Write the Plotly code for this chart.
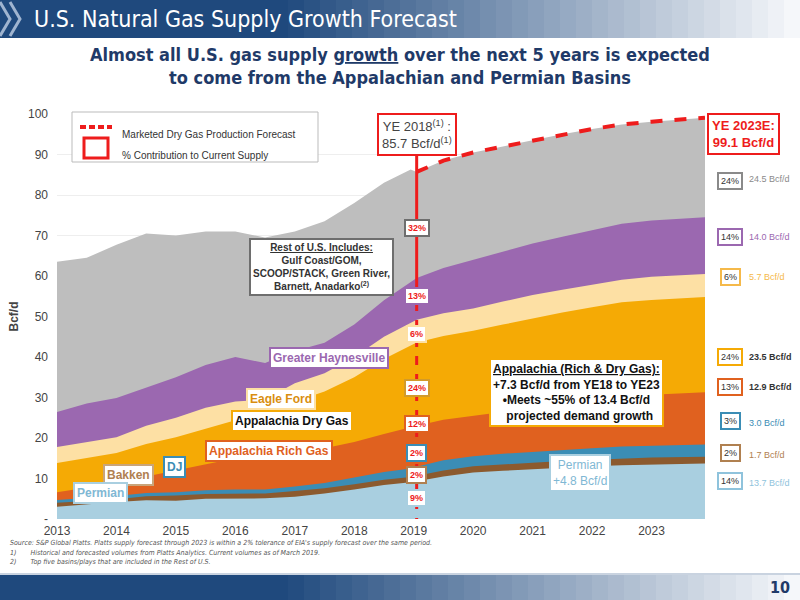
import plotly.graph_objects as go

# ---- data (Bcf/d, cumulative stack tops) ----
YEARS = [2013.0, 2013.5, 2014.0, 2014.5, 2015.0, 2015.5, 2016.0, 2016.5, 2017.0, 2017.5,
         2018.0, 2018.5, 2018.95, 2019.05, 2019.5, 2020.0, 2020.5, 2021.0, 2021.5, 2022.0,
         2022.5, 2023.0, 2023.9]
CUM_PERMIAN = [3.0, 3.6, 4.2, 4.6, 4.5, 5.0, 5.0, 5.1, 5.5, 6.3, 7.3, 8.4, 9.1, 9.3, 10.5, 11.5, 11.9, 12.3, 12.7, 13.0, 13.3, 13.5, 13.7]
CUM_BAKKEN = [4.0, 4.5, 4.9, 5.6, 5.8, 6.2, 6.3, 6.3, 6.9, 7.6, 8.6, 9.7, 10.4, 10.7, 12.0, 13.0, 13.5, 13.9, 14.3, 14.6, 15.0, 15.2, 15.4]
CUM_DJ = [4.7, 5.2, 5.7, 6.4, 6.6, 7.1, 7.3, 7.3, 8.0, 8.9, 10.2, 11.6, 12.5, 12.9, 14.5, 15.5, 16.1, 16.6, 17.1, 17.5, 17.9, 18.1, 18.4]
CUM_RICH = [6.6, 7.8, 8.9, 10.5, 12.0, 13.5, 15.0, 15.2, 16.5, 17.5, 19.0, 21.0, 22.7, 23.0, 24.5, 25.5, 26.5, 27.5, 28.4, 29.3, 30.1, 30.7, 31.3]
CUM_DRY = [13.8, 15.0, 16.3, 18.5, 20.2, 22.3, 24.4, 25.5, 29.0, 31.5, 35.0, 39.5, 43.0, 43.6, 45.2, 46.5, 48.0, 49.5, 51.0, 52.3, 53.5, 54.1, 54.8]
CUM_EF = [17.8, 19.0, 20.2, 23.0, 25.0, 27.5, 29.0, 29.5, 33.5, 36.0, 40.0, 45.0, 48.6, 49.2, 50.8, 52.0, 53.7, 55.3, 56.6, 57.9, 59.1, 59.8, 60.5]
CUM_HAY = [26.4, 28.5, 29.9, 32.5, 35.0, 38.0, 40.0, 38.5, 41.5, 43.5, 48.0, 54.0, 58.5, 59.5, 62.0, 64.0, 66.0, 68.0, 69.7, 71.3, 72.9, 73.7, 74.5]
CUM_TOTAL = [63.5, 64.5, 67.7, 70.5, 70.0, 71.0, 71.0, 69.5, 71.0, 73.5, 78.0, 83.0, 86.3, 85.7, 88.5, 90.5, 92.0, 93.5, 95.0, 96.3, 97.4, 98.1, 99.1]

FCST_YEARS = [2019.05, 2019.5, 2020.0, 2020.5, 2021.0, 2021.5, 2022.0, 2022.5, 2023.0, 2023.9]
FCST_VALUES = [85.7, 88.5, 90.5, 92.0, 93.5, 95.0, 96.3, 97.4, 98.1, 99.1]

LAYERS = [
    ("Rest of U.S.", CUM_TOTAL, "#bebebe"),
    ("Greater Haynesville", CUM_HAY, "#9b68b0"),
    ("Eagle Ford", CUM_EF, "#fde0a4"),
    ("Appalachia Dry Gas", CUM_DRY, "#f5aa05"),
    ("Appalachia Rich Gas", CUM_RICH, "#e0611f"),
    ("DJ", CUM_DJ, "#3b8db5"),
    ("Bakken", CUM_BAKKEN, "#8c5a2e"),
    ("Permian", CUM_PERMIAN, "#a9cfe0"),
]

X_TICKS = list(range(2013, 2024))
Y_TICKS = list(range(0, 101, 10))
Y_LABELS = ["-"] + [str(v) for v in Y_TICKS[1:]]

RIGHT_PCT = ["24%", "14%", "6%", "24%", "13%", "3%", "2%", "14%"]
RIGHT_VAL = ["24.5 Bcf/d", "14.0 Bcf/d", "5.7 Bcf/d", "23.5 Bcf/d", "12.9 Bcf/d", "3.0 Bcf/d", "1.7 Bcf/d", "13.7 Bcf/d"]
RIGHT_COL = ["#8a8a8a", "#9b68b0", "#f5b94a", "#f5aa05", "#e0611f", "#3b8db5", "#b08050", "#8fc3dc"]
RIGHT_TXT = ["#8a8a8a", "#9b68b0", "#f5b94a", "#333333", "#333333", "#3b8db5", "#b08050", "#8fc3dc"]
RIGHT_Y = [172, 237, 277, 357, 387, 430, 462, 490]

MID_PCT = ["32%", "13%", "6%", "24%", "12%", "2%", "2%", "9%"]
MID_Y = [71.9, 55.0, 45.7, 32.3, 23.5, 16.3, 10.9, 5.2]
MID_COL = ["#6e6e6e", "#9b68b0", "#fde0a4", "#d29a2a", "#e0611f", "#3b8db5", "#b08050", "#a9cfe0"]

FONT = "Liberation Sans"
NARROW = "DejaVu Sans Condensed, Roboto Condensed, Roboto"


def px(x):
    return x / 800


def py(y):
    return 1 - y / 600


fig = go.Figure()

for name, cum, color in LAYERS:
    fig.add_trace(go.Scatter(
        x=YEARS, y=cum, mode="lines", line=dict(width=0, color=color),
        fill="tozeroy", fillcolor=color, name=name, showlegend=False, hoverinfo="skip"))

fig.add_trace(go.Scatter(x=FCST_YEARS, y=FCST_VALUES, mode="lines",
                         line=dict(color="#ee1c1c", width=4, dash="dash"),
                         showlegend=False, hoverinfo="skip"))

shapes = []
annotations = []

# header / footer gradient bands
n = 50
for i in range(n):
    t = i / (n - 1)
    f = max(0.0, (t - 0.35) / 0.65)
    r = int(31 + (245 - 31) * f)
    g = int(73 + (247 - 73) * f)
    b = int(125 + (250 - 125) * f)
    for y0, y1 in ((py(38), 1), (0, py(574))):
        shapes.append(dict(type="rect", xref="paper", yref="paper", x0=t * 0.98, x1=t * 0.98 + 0.021,
                           y0=y0, y1=y1, fillcolor=f"rgb({r},{g},{b})", line=dict(width=0), layer="below"))
shapes.append(dict(type="line", xref="paper", yref="paper", x0=0, x1=1, y0=py(574), y1=py(574),
                   line=dict(color="#c9d3e0", width=2)))
for dx in (0, 10):
    shapes.append(dict(type="path", xref="paper", yref="paper",
                       path=f"M {px(dx)},{py(2)} L {px(dx + 10)},{py(19)} L {px(dx)},{py(36)}",
                       line=dict(color="#9fb4d0", width=3)))

annotations.append(dict(text="U.S. Natural Gas Supply Growth Forecast", xref="paper", yref="paper",
                        x=px(32), y=py(19), xanchor="left", yanchor="middle", showarrow=False,
                        font=dict(family=NARROW, size=23, color="white")))
annotations.append(dict(text="<b>Almost all U.S. gas supply <u>growth</u> over the next 5 years is expected<br>to come from the Appalachian and Permian Basins</b>",
                        xref="paper", yref="paper", x=px(400), y=py(66), xanchor="center", yanchor="middle",
                        showarrow=False, font=dict(family=NARROW, size=18, color="#1f3a68")))
annotations.append(dict(text="<b>10</b>", xref="paper", yref="paper", x=px(792), y=py(587), xanchor="right",
                        yanchor="middle", showarrow=False, font=dict(family=NARROW, size=16, color="#1f3a68")))

# legend box
shapes.append(dict(type="rect", xref="paper", yref="paper", x0=px(72), x1=px(318), y0=py(162), y1=py(112),
                   fillcolor="white", line=dict(color="#bbbbbb", width=1)))
shapes.append(dict(type="line", xref="paper", yref="paper", x0=px(80), x1=px(112), y0=py(127), y1=py(127),
                   line=dict(color="#ee1c1c", width=4, dash="6px,3px")))
shapes.append(dict(type="rect", xref="paper", yref="paper", x0=px(84), x1=px(108), y0=py(158), y1=py(138),
                   line=dict(color="#ee1c1c", width=3)))
annotations.append(dict(text="Marketed Dry Gas Production Forecast", xref="paper", yref="paper", x=px(120), y=py(127),
                        xanchor="left", showarrow=False, font=dict(family=FONT, size=10, color="#333")))
annotations.append(dict(text="% Contribution to Current Supply", xref="paper", yref="paper", x=px(120), y=py(148),
                        xanchor="left", showarrow=False, font=dict(family=FONT, size=10, color="#333")))

# YE 2018 marker
shapes.append(dict(type="line", xref="x", yref="y", x0=2019.05, x1=2019.05, y0=96, y1=58,
                   line=dict(color="#ee1c1c", width=3)))
shapes.append(dict(type="line", xref="x", yref="y", x0=2019.05, x1=2019.05, y0=58, y1=0,
                   line=dict(color="#ee1c1c", width=3, dash="dash")))
annotations.append(dict(text="YE 2018<sup>(1)</sup> :<br>85.7 Bcf/d<sup>(1)</sup>", xref="x", yref="paper",
                        x=2019.05, y=py(113), xanchor="center", showarrow=False, bgcolor="white", bordercolor="#ee1c1c",
                        borderwidth=2, borderpad=3, font=dict(family=FONT, size=13, color="#444")))
annotations.append(dict(text="<b>YE 2023E:<br>99.1 Bcf/d</b>", xref="paper", yref="paper", x=px(743), y=py(113),
                        xanchor="center", showarrow=False, bgcolor="white", bordercolor="#ee1c1c", borderwidth=2,
                        borderpad=3, font=dict(family=FONT, size=13, color="#ee1c1c")))
for txt, yv, col in zip(MID_PCT, MID_Y, MID_COL):
    annotations.append(dict(text=f"<b>{txt}</b>", xref="x", yref="y", x=2019.05, y=yv, xanchor="center",
                            showarrow=False, bgcolor="white", bordercolor=col, borderwidth=2, borderpad=2,
                            font=dict(family=FONT, size=9, color="#ee1c1c")))

# right side labels
for p, v, c, tc, yy in zip(RIGHT_PCT, RIGHT_VAL, RIGHT_COL, RIGHT_TXT, RIGHT_Y):
    annotations.append(dict(text=p, xref="paper", yref="paper", x=px(730), y=py(yy), xanchor="center",
                            showarrow=False, bgcolor="white", bordercolor=c, borderwidth=2, borderpad=2,
                            font=dict(family=FONT, size=9, color="#333")))
    annotations.append(dict(text=f"<b>{v}</b>" if tc == "#333333" else v, xref="paper", yref="paper",
                            x=px(747), y=py(yy), xanchor="left", showarrow=False,
                            font=dict(family=FONT, size=9, color=tc)))


def label(text, x, y, border, color, size=12, bold=True):
    annotations.append(dict(text=f"<b>{text}</b>" if bold else text, xref="paper", yref="paper",
                            x=px(x), y=py(y), xanchor="center", showarrow=False, bgcolor="white",
                            bordercolor=border, borderwidth=2, borderpad=2,
                            font=dict(family=FONT, size=size, color=color)))


label("<u>Rest of U.S. Includes:</u><br>Gulf Coast/GOM,<br>SCOOP/STACK, Green River,<br>Barnett, Anadarko<sup>(2)</sup>",
      321, 267, "#6e6e6e", "#333", size=10)
label("Greater Haynesville", 329, 358, "#9b68b0", "#9b68b0", size=12)
label("Eagle Ford", 281, 399, "#fde0a4", "#d98e10", size=12)
label("Appalachia Dry Gas", 292, 432, "#f5aa05", "#111", size=12)
label("Appalachia Rich Gas", 269, 462, "#e0611f", "#e0611f", size=12)
label("DJ", 174, 478, "#3b8db5", "#3b8db5", size=12)
label("Bakken", 128, 486, "#c9a57a", "#b08050", size=12)
label("Permian", 100, 504, "#a9cfe0", "#7fb8d4", size=12)
label("Permian<br>+4.8 Bcf/d", 580, 492, "#a9cfe0", "#7fb8d4", size=12, bold=False)
label("<u>Appalachia (Rich & Dry Gas):</u><br>+7.3 Bcf/d from YE18 to YE23<br>•Meets ~55% of 13.4 Bcf/d<br>  projected demand growth",
      576, 392, "#f5aa05", "#111", size=12)

for txt, yy in (("Source: S&P Global Platts. Platts supply forecast through 2023 is within a 2% tolerance of EIA's supply forecast over the same period.", 549),
                ("1)       Historical and forecasted volumes from Platts Analytics. Current volumes as of March 2019.", 559),
                ("2)       Top five basins/plays that are included in the Rest of U.S.", 568)):
    annotations.append(dict(text=f"<i>{txt}</i>", xref="paper", yref="paper", x=px(8), y=py(yy), xanchor="left",
                            showarrow=False, font=dict(family=NARROW, size=7, color="#555")))

fig.update_layout(
    width=800, height=600, margin=dict(l=0, r=0, t=0, b=0),
    paper_bgcolor="white", plot_bgcolor="white", showlegend=False,
    font=dict(family=FONT),
    xaxis=dict(domain=[px(57), px(705)], range=[2013, 2023.9], tickvals=X_TICKS, showgrid=False,
               zeroline=False, tickfont=dict(size=12, color="#444"), ticks="", automargin=False,
               ticklabelstandoff=3),
    yaxis=dict(domain=[py(519), py(114)], range=[0, 100], tickvals=Y_TICKS, ticktext=Y_LABELS,
               showgrid=True, gridcolor="#eeeeee", zeroline=False, tickfont=dict(size=12, color="#444"),
               ticklabelstandoff=8, automargin=False,
               title=dict(text="<b>Bcf/d</b>", font=dict(size=12, color="#444"), standoff=6)),
    shapes=shapes, annotations=annotations,
)

fig.write_html("out.html", config={"displayModeBar": False},
               post_script="document.body.style.margin='0';")
